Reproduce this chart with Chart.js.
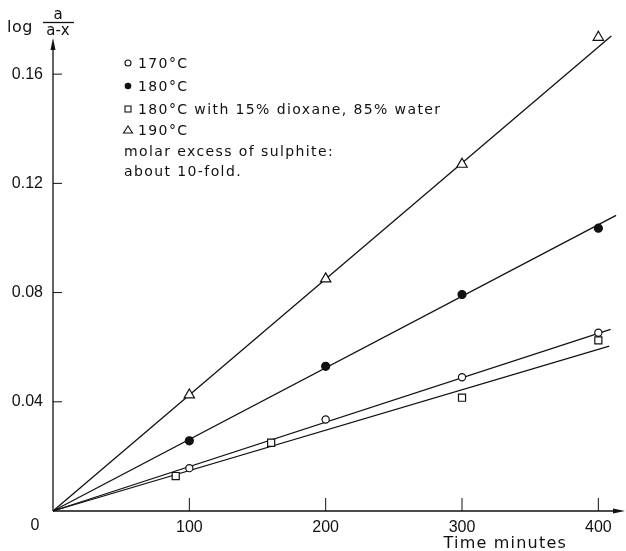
<!DOCTYPE html>
<html>
<head>
<meta charset="utf-8">
<script src="https://cdn.jsdelivr.net/npm/chart.js@4/dist/chart.umd.min.js"></script>
<style>
  body { margin: 0; background: #fff; }
  canvas { display: block; }
</style>
</head>
<body>
<canvas id="mycanvas" width="626" height="551"></canvas>
<script>
// measured points (time in minutes, log a/(a-x))
var t170 = [100, 200, 300, 400];
var v170 = [0.0157, 0.0335, 0.049, 0.0653];
var t180 = [100, 200, 300, 400];
var v180 = [0.0257, 0.053, 0.0793, 0.1036];
var tDiox = [90, 160, 300, 400];
var vDiox = [0.0128, 0.025, 0.0415, 0.0625];
var t190 = [100, 200, 300, 400];
var v190 = [0.0425, 0.085, 0.127, 0.1735];

// fitted straight lines, drawn from origin to end point
var fit170 = [[0, 0], [409, 0.0665]];
var fit180 = [[0, 0], [413, 0.1083]];
var fitDiox = [[0, 0], [408, 0.0604]];
var fit190 = [[0, 0], [409.5, 0.174]];

var xTicks = [100, 200, 300, 400];
var yTicks = [0.04, 0.08, 0.12, 0.16];

var legendRows = [
  { mark: "open", text: "170°C" },
  { mark: "filled", text: "180°C" },
  { mark: "square", text: "180°C with 15% dioxane, 85% water" },
  { mark: "triangle", text: "190°C" },
  { mark: null, text: "molar excess of sulphite:" },
  { mark: null, text: "about 10-fold." }
];

function pts(xs, ys) {
  var out = [];
  for (var i in xs) out.push({ x: xs[i], y: ys[i] });
  return out;
}
function fitPts(f) {
  return f.map(function (p) { return { x: p[0], y: p[1] }; });
}

var ink = "#111";

function lineSet(f) {
  return {
    data: fitPts(f), showLine: true, borderColor: ink, borderWidth: 1.3,
    pointRadius: 0, fill: false, order: 2, clip: false
  };
}
function markSet(xs, ys, style, bg, r) {
  return {
    data: pts(xs, ys), showLine: false, pointStyle: style, pointRadius: r,
    pointHoverRadius: r, backgroundColor: bg, borderColor: ink,
    pointBorderWidth: 1.2, order: 1, clip: false
  };
}

var decor = {
  id: "decor",
  afterDraw: function (chart) {
    var ctx = chart.ctx;
    var xs = chart.scales.x, ys = chart.scales.y;
    var x0 = xs.getPixelForValue(0), y0 = ys.getPixelForValue(0);
    ctx.save();
    ctx.strokeStyle = ink;
    ctx.fillStyle = ink;
    ctx.lineWidth = 1.3;

    // axes
    ctx.beginPath();
    ctx.moveTo(x0, y0); ctx.lineTo(x0, 44);
    ctx.moveTo(x0, y0); ctx.lineTo(618, y0);
    ctx.stroke();
    // arrow heads
    ctx.beginPath();
    ctx.moveTo(x0, 38); ctx.lineTo(x0 - 2.5, 50); ctx.lineTo(x0 + 2.5, 50); ctx.closePath();
    ctx.fill();
    ctx.beginPath();
    ctx.moveTo(625, y0); ctx.lineTo(613, y0 - 2.5); ctx.lineTo(613, y0 + 2.5); ctx.closePath();
    ctx.fill();

    // inward ticks
    ctx.lineWidth = 1;
    ctx.beginPath();
    yTicks.forEach(function (v) {
      var y = ys.getPixelForValue(v);
      ctx.moveTo(x0, y); ctx.lineTo(x0 + 9, y);
    });
    xTicks.forEach(function (v) {
      var x = xs.getPixelForValue(v);
      ctx.moveTo(x, y0); ctx.lineTo(x, y0 - 13);
    });
    ctx.stroke();

    // common zero
    ctx.font = "16px 'Liberation Sans'";
    ctx.textAlign = "center";
    ctx.textBaseline = "middle";
    ctx.fillText("0", x0 - 18, y0 + 15);

    // axis titles
    ctx.font = "16px 'DejaVu Sans'";
    ctx.letterSpacing = "1.2px";
    ctx.textAlign = "right";
    ctx.textBaseline = "alphabetic";
    ctx.fillText("Time minutes", 567, 548);

    ctx.textAlign = "left";
    ctx.font = "16px 'DejaVu Sans'";
    ctx.letterSpacing = "0.5px";
    ctx.fillText("log", 7, 32);
    ctx.font = "15px 'DejaVu Sans'";
    ctx.letterSpacing = "0px";
    ctx.textAlign = "center";
    ctx.fillText("a", 58, 19);
    ctx.fillText("a-x", 58, 35);
    ctx.lineWidth = 1.3;
    ctx.beginPath();
    ctx.moveTo(43, 22.5); ctx.lineTo(74, 22.5);
    ctx.stroke();

    // legend block
    var rowY = [63, 86, 109, 130, 151, 171];
    ctx.font = "14px 'DejaVu Sans'";
    ctx.letterSpacing = "1.4px";
    ctx.textAlign = "left";
    ctx.textBaseline = "middle";
    legendRows.forEach(function (row, i) {
      var y = rowY[i], mx = 128;
      ctx.lineWidth = 1.1;
      if (row.mark === "open") {
        ctx.beginPath(); ctx.arc(mx, y, 3, 0, Math.PI * 2); ctx.stroke();
      } else if (row.mark === "filled") {
        ctx.beginPath(); ctx.arc(mx, y, 3.3, 0, Math.PI * 2); ctx.fill();
      } else if (row.mark === "square") {
        ctx.strokeRect(mx - 3, y - 3, 6, 6);
      } else if (row.mark === "triangle") {
        ctx.beginPath();
        ctx.moveTo(mx, y - 4); ctx.lineTo(mx - 4.5, y + 3); ctx.lineTo(mx + 4.5, y + 3); ctx.closePath();
        ctx.stroke();
      }
      ctx.fillText(row.text, row.mark ? 138 : 124, y + 1);
    });
    ctx.restore();
  }
};

var ctx = document.getElementById("mycanvas");
var graph = new Chart(ctx, {
  type: "scatter",
  data: {
    datasets: [
      lineSet(fit170), lineSet(fit180), lineSet(fitDiox), lineSet(fit190),
      markSet(t170, v170, "circle", "#fff", 3.6),
      markSet(t180, v180, "circle", ink, 4),
      markSet(tDiox, vDiox, "rect", "#fff", 5),
      markSet(t190, v190, "triangle", "#fff", 6)
    ]
  },
  options: {
    responsive: false,
    animation: false,
    layout: { padding: { top: 25, right: 6, left: 0, bottom: 0 } },
    plugins: { legend: { display: false }, tooltip: { enabled: false } },
    scales: {
      x: {
        type: "linear", min: 0, max: 415,
        afterFit: function (s) { s.height = 40; },
        grid: { display: false, drawTicks: false },
        border: { display: false },
        afterBuildTicks: function (s) { s.ticks = xTicks.map(function (v) { return { value: v }; }); },
        ticks: {
          padding: 7, color: ink, maxRotation: 0,
          font: { family: "Liberation Sans", size: 16 }
        }
      },
      y: {
        type: "linear", min: 0, max: 0.178,
        afterFit: function (s) { s.width = 53; },
        grid: { display: false, drawTicks: false },
        border: { display: false },
        afterBuildTicks: function (s) { s.ticks = yTicks.map(function (v) { return { value: v }; }); },
        ticks: {
          padding: 10, color: ink,
          font: { family: "Liberation Sans", size: 16 },
          callback: function (v) { return v.toFixed(2); }
        }
      }
    }
  },
  plugins: [decor]
});
</script>
</body>
</html>
